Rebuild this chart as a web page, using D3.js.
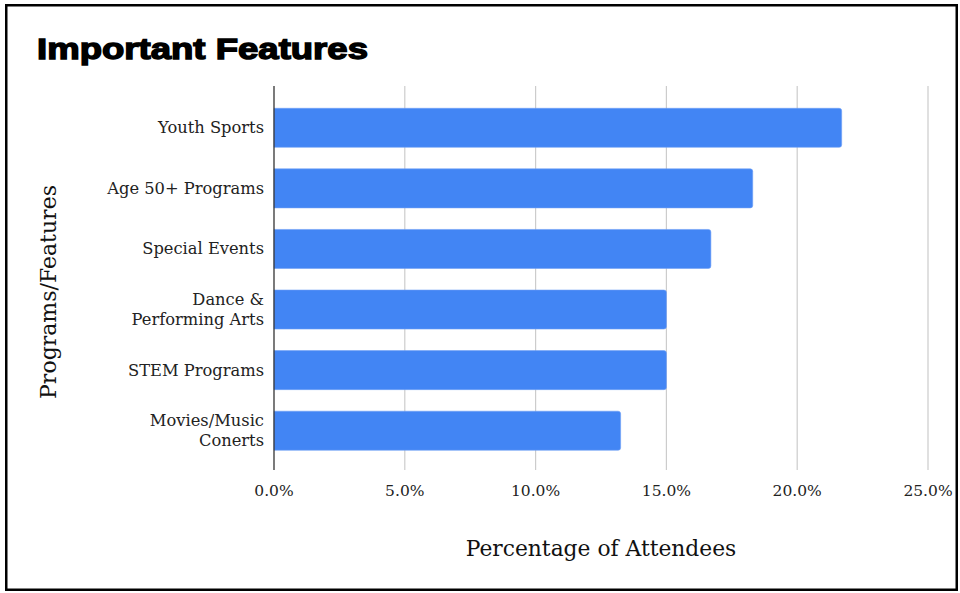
<!DOCTYPE html>
<html>
<head>
<meta charset="utf-8">
<script src="https://cdn.jsdelivr.net/npm/d3@7"></script>
<style>
  html, body { margin: 0; padding: 0; background: #fff; }
  svg { display: block; }
</style>
</head>
<body>
<svg id="chart" width="960" height="593"></svg>
<script>
// Share of attendees who named each program/feature as important
const categories = ["Youth Sports", "Age 50+ Programs", "Special Events", "Dance & Performing Arts", "STEM Programs", "Movies/Music Conerts"];
const labelLines = [["Youth Sports"], ["Age 50+ Programs"], ["Special Events"], ["Dance &", "Performing Arts"], ["STEM Programs"], ["Movies/Music", "Conerts"]];
const values = [0.217, 0.183, 0.167, 0.150, 0.150, 0.1325];
const tickValues = [0, 0.05, 0.10, 0.15, 0.20, 0.25];
const tickLabels = ["0.0%", "5.0%", "10.0%", "15.0%", "20.0%", "25.0%"];

const svg = d3.select("#chart");
const serif = "'DejaVu Serif', Georgia, serif";

// outer frame
svg.append("rect")
  .attr("x", 6.25).attr("y", 5.25)
  .attr("width", 950.5).attr("height", 584.5)
  .attr("fill", "#fff").attr("stroke", "#000").attr("stroke-width", 2.5);

// title
svg.append("text")
  .attr("x", 37).attr("y", 59)
  .attr("font-family", "'Liberation Sans', Arial, sans-serif")
  .attr("font-weight", "bold")
  .attr("font-size", 30)
  .attr("stroke", "#000").attr("stroke-width", 1.4)
  .attr("textLength", 331).attr("lengthAdjust", "spacingAndGlyphs")
  .attr("fill", "#000")
  .text("Important Features");

const x = d3.scaleLinear().domain([0, 0.25]).range([274, 928]);
const y = d3.scaleBand().domain(categories).range([97.5, 461]).paddingInner(0.356).paddingOuter(0.178);
const gridTop = 86, gridBottom = 470;

// vertical gridlines
svg.append("g").selectAll("line")
  .data(tickValues.slice(1))
  .join("line")
  .attr("x1", d => x(d)).attr("x2", d => x(d))
  .attr("y1", gridTop).attr("y2", gridBottom)
  .attr("stroke", "#cccccc").attr("stroke-width", 1.2);

// bars, rounded at the value end
const r = 2.5;
svg.append("g").selectAll("path")
  .data(categories.map((c, i) => ({ c, v: values[i] })))
  .join("path")
  .attr("d", d => {
    const x0 = x(0), x1 = x(d.v), y0 = y(d.c), h = y.bandwidth();
    return `M${x0},${y0}H${x1 - r}Q${x1},${y0} ${x1},${y0 + r}V${y0 + h - r}Q${x1},${y0 + h} ${x1 - r},${y0 + h}H${x0}Z`;
  })
  .attr("fill", "#4285f4")
  .attr("stroke", "#6fa0f6").attr("stroke-width", 0.6);

// baseline axis
svg.append("line")
  .attr("x1", x(0)).attr("x2", x(0))
  .attr("y1", gridTop).attr("y2", gridBottom)
  .attr("stroke", "#333").attr("stroke-width", 1.3);

// x tick labels
svg.append("g").selectAll("text")
  .data(tickValues)
  .join("text")
  .attr("x", d => x(d)).attr("y", 496)
  .attr("text-anchor", "middle")
  .attr("font-family", serif).attr("font-size", 15.5)
  .attr("fill", "#222")
  .text((d, i) => tickLabels[i]);

// category labels
const lab = svg.append("g").selectAll("text")
  .data(categories)
  .join("text")
  .attr("text-anchor", "end")
  .attr("font-family", serif).attr("font-size", 16.3)
  .attr("fill", "#222");
lab.each(function (d, i) {
  const lines = labelLines[i];
  const cy = y(d) + y.bandwidth() / 2;
  const lh = 19.5;
  const start = cy - (lines.length - 1) * lh / 2 + 5.5;
  d3.select(this).selectAll("tspan")
    .data(lines)
    .join("tspan")
    .attr("x", 264)
    .attr("y", (t, k) => start + k * lh)
    .text(t => t);
});

// axis titles
svg.append("text")
  .attr("x", 601).attr("y", 556)
  .attr("text-anchor", "middle")
  .attr("font-family", serif).attr("font-size", 21.8)
  .attr("fill", "#111")
  .text("Percentage of Attendees");

svg.append("text")
  .attr("transform", "translate(56,292) rotate(-90)")
  .attr("text-anchor", "middle")
  .attr("font-family", serif).attr("font-size", 22)
  .attr("fill", "#111")
  .text("Programs/Features");
</script>
</body>
</html>
